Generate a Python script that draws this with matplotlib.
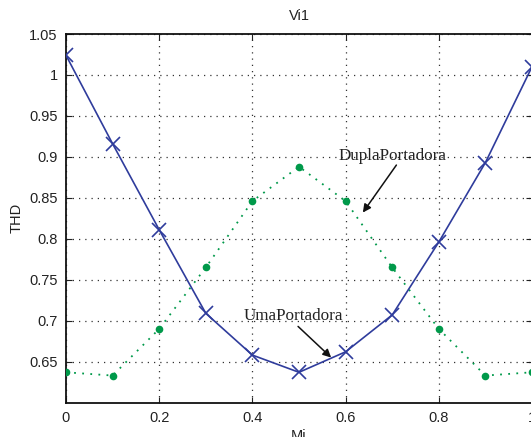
import matplotlib
matplotlib.use("Agg")
import matplotlib.pyplot as plt
from matplotlib.ticker import FuncFormatter

mi = [0.0, 0.1, 0.2, 0.3, 0.4, 0.5, 0.6, 0.7, 0.8, 0.9, 1.0]
uma = [1.024, 0.916, 0.811, 0.709, 0.658, 0.637, 0.662, 0.707, 0.796, 0.893, 1.01]
dupla = [0.637, 0.633, 0.690, 0.765, 0.846, 0.888, 0.846, 0.765, 0.690, 0.633, 0.637]
xticks = [0, 0.2, 0.4, 0.6, 0.8, 1.0]
yticks = [0.65, 0.7, 0.75, 0.8, 0.85, 0.9, 0.95, 1.0, 1.05]

W, H = 531, 437
fig = plt.figure(figsize=(W / 100, H / 100), dpi=100)
plt.rcParams['font.family'] = ['Liberation Sans', 'DejaVu Sans']
left, right, top, bottom = 66, 532, 34, 402.6
ax = fig.add_axes([left / W, 1 - bottom / H, (right - left) / W, (bottom - top) / H])

blue = '#2F3C9C'
green = '#00994A'
ax.plot(mi, dupla, linestyle=(0, (1, 3.5)), color=green, lw=1.3,
        marker='o', markersize=5.5, markeredgewidth=0, zorder=3)
ax.plot(mi, uma, '-', color=blue, lw=1.2, marker='x', markersize=10,
        markeredgewidth=1.2, zorder=4)

ax.set_xlim(0, 1)
ax.set_ylim(0.6, 1.05)
ax.set_xticks(xticks)
ax.set_yticks(yticks)
fmt = FuncFormatter(lambda v, p: ('%g' % round(v, 3)))
ax.xaxis.set_major_formatter(fmt)
ax.yaxis.set_major_formatter(fmt)
ax.tick_params(direction='in', top=True, right=True, labelsize=10.5,
               length=4, width=0.8, colors='#222222', pad=6)
ax.grid(True, color='#333333', linestyle=(0, (1, 4)), linewidth=0.9)
for s in ax.spines.values():
    s.set_linewidth(1.3)
    s.set_color('#111111')

ax.set_title('Vi1', fontsize=10.5, color='#222222', pad=10)
ax.set_xlabel('Mi', fontsize=10.5, color='#222222', labelpad=3)
ax.set_ylabel('THD', fontsize=10.5, color='#222222', labelpad=4)

serif = ['Liberation Serif', 'DejaVu Serif']
ax.annotate('', xy=(0.637, 0.832), xytext=(0.709, 0.890),
            arrowprops=dict(arrowstyle='-|>', color='#111111', lw=1.1,
                            mutation_scale=12, shrinkA=0, shrinkB=0))
ax.text(0.700, 0.901, 'DuplaPortadora', fontsize=12.3, family=serif,
        color='#222222', ha='center', va='center')
ax.annotate('', xy=(0.569, 0.655), xytext=(0.498, 0.693),
            arrowprops=dict(arrowstyle='-|>', color='#111111', lw=1.1,
                            mutation_scale=12, shrinkA=0, shrinkB=0))
ax.text(0.487, 0.706, 'UmaPortadora', fontsize=12.3, family=serif,
        color='#222222', ha='center', va='center')

fig.savefig('out.png', dpi=100)
